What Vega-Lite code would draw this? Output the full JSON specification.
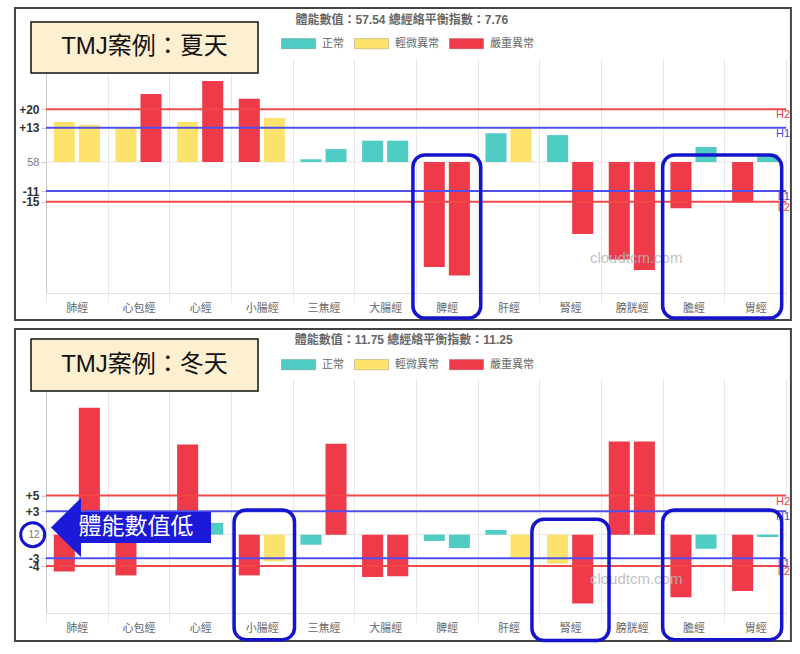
{
  "$schema": "https://vega.github.io/schema/vega-lite/v6.json",
  "padding": {"left": 13, "top": 7, "right": 5, "bottom": 5},
  "background": "white",
  "bounds": "flush",
  "spacing": 85,
  "resolve": {"scale": {"color": "independent"}},
  "config": {"view": {"stroke": null}, "font": "Liberation Sans, Noto Sans CJK TC"},
  "vconcat": [
    {
      "width": 740, "height": 235,
      "resolve": {"scale": {"x": "independent"}},
      "layer": [
        {
          "data": {"values": [{"v": 0}]},
          "mark": {"type": "rule", "color": "#e4e4e4", "strokeWidth": 1},
          "encoding": {
            "y": {"field": "v", "type": "quantitative", "title": null, "scale": {"domain": [-49.6, 39.4], "nice": false, "zero": false}}
          }
        },
        {
          "data": {"values": [
            {"meridian": "肺經", "side": "L", "value": 15.2, "status": "輕微異常"},
            {"meridian": "肺經", "side": "R", "value": 14.1, "status": "輕微異常"},
            {"meridian": "心包經", "side": "L", "value": 12.9, "status": "輕微異常"},
            {"meridian": "心包經", "side": "R", "value": 25.8, "status": "嚴重異常"},
            {"meridian": "心經", "side": "L", "value": 15.2, "status": "輕微異常"},
            {"meridian": "心經", "side": "R", "value": 30.7, "status": "嚴重異常"},
            {"meridian": "小腸經", "side": "L", "value": 24.0, "status": "嚴重異常"},
            {"meridian": "小腸經", "side": "R", "value": 16.7, "status": "輕微異常"},
            {"meridian": "三焦經", "side": "L", "value": 1.1, "status": "正常"},
            {"meridian": "三焦經", "side": "R", "value": 4.9, "status": "正常"},
            {"meridian": "大腸經", "side": "L", "value": 8.1, "status": "正常"},
            {"meridian": "大腸經", "side": "R", "value": 8.1, "status": "正常"},
            {"meridian": "脾經", "side": "L", "value": -39.8, "status": "嚴重異常"},
            {"meridian": "脾經", "side": "R", "value": -43.0, "status": "嚴重異常"},
            {"meridian": "肝經", "side": "L", "value": 10.9, "status": "正常"},
            {"meridian": "肝經", "side": "R", "value": 12.8, "status": "輕微異常"},
            {"meridian": "腎經", "side": "L", "value": 10.2, "status": "正常"},
            {"meridian": "腎經", "side": "R", "value": -27.3, "status": "嚴重異常"},
            {"meridian": "膀胱經", "side": "L", "value": -36.9, "status": "嚴重異常"},
            {"meridian": "膀胱經", "side": "R", "value": -40.9, "status": "嚴重異常"},
            {"meridian": "膽經", "side": "L", "value": -17.5, "status": "嚴重異常"},
            {"meridian": "膽經", "side": "R", "value": 5.7, "status": "正常"},
            {"meridian": "胃經", "side": "L", "value": -15.3, "status": "嚴重異常"},
            {"meridian": "胃經", "side": "R", "value": 2.9, "status": "正常"}
          ]},
          "mark": {"type": "bar"},
          "encoding": {
            "x": {"field": "meridian", "type": "nominal",
                  "sort": ["肺經", "心包經", "心經", "小腸經", "三焦經", "大腸經", "脾經", "肝經", "腎經", "膀胱經", "膽經", "胃經"],
                  "scale": {"paddingInner": 0, "paddingOuter": 0},
                  "axis": {"title": null, "tickBand": "extent", "grid": true, "gridColor": "#e8e8e8", "tickColor": "#e8e8e8", "tickSize": 9, "domainColor": "#e0e0e0", "labelColor": "#666", "labelFontSize": 11, "labelPadding": 0, "labelAngle": 0}},
            "xOffset": {"field": "side", "type": "nominal", "scale": {"paddingInner": 0.16, "paddingOuter": 0.31}},
            "y": {"field": "value", "type": "quantitative", "title": null, "scale": {"domain": [-49.6, 39.4], "nice": false, "zero": false},
                  "axis": {"title": null, "values": [20, 13, 0, -11, -15],
                           "labelExpr": "datum.value == 0 ? '58' : (datum.value > 0 ? '+' + datum.value : '' + datum.value)",
                           "labelFontWeight": {"condition": {"test": "datum.value == 0", "value": "normal"}, "value": "bold"},
                           "labelColor": {"condition": {"test": "datum.value == 0", "value": "#777"}, "value": "#333"},
                           "labelFontSize": {"condition": {"test": "datum.value == 0", "value": 11}, "value": 12},
                           "labelOverlap": false, "labelPadding": 2, "tickSize": 5, "tickColor": "#ccc", "domainColor": "#ccc", "grid": false}},
            "color": {"field": "status", "type": "nominal",
                      "scale": {"domain": ["正常", "輕微異常", "嚴重異常"], "range": ["#4fcdc5", "#fde36b", "#ef3a4a"]},
                      "legend": {"title": null, "orient": "none", "legendX": 235, "legendY": -32, "direction": "horizontal",
                                 "symbolType": "M-1,-0.3H1V0.3H-1Z", "symbolSize": 1156, "symbolStrokeWidth": 1, "symbolStrokeColor": "rgba(0,0,0,0.18)",
                                 "labelFontSize": 11, "labelColor": "#666", "labelOffset": 6, "columnPadding": 8, "padding": 0}}
          }
        },
        {
          "data": {"values": [{"x1": -0.503, "x2": 12.08, "y1": 58.3, "y2": -59.8}]},
          "mark": {"type": "rect", "filled": false, "color": "#444", "strokeWidth": 2, "clip": false},
          "encoding": {
            "x": {"field": "x1", "type": "quantitative", "scale": {"domain": [0, 12], "nice": false, "zero": false}, "axis": null},
            "x2": {"field": "x2"},
            "y": {"field": "y1", "type": "quantitative", "title": null, "scale": {"domain": [-49.6, 39.4], "nice": false, "zero": false}},
            "y2": {"field": "y2"}
          }
        },
        {
          "data": {"values": [{"x1": -0.243, "x2": 3.438, "y1": 53.0, "y2": 33.7, "xc": 1.597, "yc": 43.4, "t": "TMJ案例：夏天"}]},
          "layer": [
            {
              "mark": {"type": "rect", "fill": "#fdf0d0", "stroke": "#111", "strokeWidth": 1.5, "clip": false},
              "encoding": {
                "x": {"field": "x1", "type": "quantitative", "scale": {"domain": [0, 12], "nice": false, "zero": false}, "axis": null},
                "x2": {"field": "x2"},
                "y": {"field": "y1", "type": "quantitative", "title": null, "scale": {"domain": [-49.6, 39.4], "nice": false, "zero": false}},
                "y2": {"field": "y2"}
              }
            },
            {
              "mark": {"type": "text", "fontSize": 24, "color": "#111", "align": "center", "baseline": "middle", "clip": false},
              "encoding": {
                "x": {"field": "xc", "type": "quantitative", "scale": {"domain": [0, 12], "nice": false, "zero": false}, "axis": null},
                "y": {"field": "yc", "type": "quantitative", "title": null, "scale": {"domain": [-49.6, 39.4], "nice": false, "zero": false}},
                "text": {"field": "t"}
              }
            }
          ]
        },
        {
          "data": {"values": [{"x": 5.77, "y": 53.8, "t": "體能數值：57.54 總經絡平衡指數：7.76"}]},
          "mark": {"type": "text", "fontSize": 12, "fontWeight": "bold", "color": "#666", "align": "center", "baseline": "middle", "clip": false},
          "encoding": {
            "x": {"field": "x", "type": "quantitative", "scale": {"domain": [0, 12], "nice": false, "zero": false}, "axis": null},
            "y": {"field": "y", "type": "quantitative", "title": null, "scale": {"domain": [-49.6, 39.4], "nice": false, "zero": false}},
            "text": {"field": "t"}
          }
        },
        {
          "data": {"values": [{"v": 20, "lab": "H2"}, {"v": -15, "lab": "L2"}]},
          "layer": [
            {"mark": {"type": "rule", "color": "#f24848", "strokeWidth": 2},
             "encoding": {"y": {"field": "v", "type": "quantitative", "title": null, "scale": {"domain": [-49.6, 39.4], "nice": false, "zero": false}}}},
            {"mark": {"type": "text", "color": "#e44848", "align": "right", "baseline": "top", "dx": 4, "dy": 0, "fontSize": 11},
             "encoding": {"x": {"value": "width"},
                          "y": {"field": "v", "type": "quantitative", "title": null, "scale": {"domain": [-49.6, 39.4], "nice": false, "zero": false}},
                          "text": {"field": "lab"}}}
          ]
        },
        {
          "data": {"values": [{"v": 13, "lab": "H1"}, {"v": -11, "lab": "L1"}]},
          "layer": [
            {"mark": {"type": "rule", "color": "#4f4fee", "strokeWidth": 2},
             "encoding": {"y": {"field": "v", "type": "quantitative", "title": null, "scale": {"domain": [-49.6, 39.4], "nice": false, "zero": false}}}},
            {"mark": {"type": "text", "color": "#4a4ae0", "align": "right", "baseline": "top", "dx": 4, "dy": 0, "fontSize": 11},
             "encoding": {"x": {"value": "width"},
                          "y": {"field": "v", "type": "quantitative", "title": null, "scale": {"domain": [-49.6, 39.4], "nice": false, "zero": false}},
                          "text": {"field": "lab"}}}
          ]
        },
        {
          "data": {"values": [{"x": 9.57, "y": -36.4, "t": "cloudtcm.com"}]},
          "mark": {"type": "text", "fontSize": 15, "color": "#b8b8b8", "opacity": 0.85, "align": "center", "baseline": "middle"},
          "encoding": {
            "x": {"field": "x", "type": "quantitative", "scale": {"domain": [0, 12], "nice": false, "zero": false}, "axis": null},
            "y": {"field": "y", "type": "quantitative", "title": null, "scale": {"domain": [-49.6, 39.4], "nice": false, "zero": false}},
            "text": {"field": "t"}
          }
        },
        {
          "data": {"values": [{"x1": 5.95, "x2": 7.05, "y1": 2.65, "y2": -59.1}, {"x1": 10.0, "x2": 11.93, "y1": 2.65, "y2": -59.1}]},
          "mark": {"type": "rect", "filled": false, "color": "#1414cc", "strokeWidth": 3.5, "cornerRadius": 12, "clip": false},
          "encoding": {
            "x": {"field": "x1", "type": "quantitative", "scale": {"domain": [0, 12], "nice": false, "zero": false}, "axis": null},
            "x2": {"field": "x2"},
            "y": {"field": "y1", "type": "quantitative", "title": null, "scale": {"domain": [-49.6, 39.4], "nice": false, "zero": false}},
            "y2": {"field": "y2"}
          }
        }
      ]
    },
    {
      "width": 740, "height": 235,
      "resolve": {"scale": {"x": "independent"}},
      "layer": [
        {
          "data": {"values": [{"v": 0}]},
          "mark": {"type": "rule", "color": "#e4e4e4", "strokeWidth": 1},
          "encoding": {
            "y": {"field": "v", "type": "quantitative", "title": null, "scale": {"domain": [-10, 20], "nice": false, "zero": false}}
          }
        },
        {
          "data": {"values": [
            {"meridian": "肺經", "side": "L", "value": -4.7, "status": "嚴重異常"},
            {"meridian": "肺經", "side": "R", "value": 16.2, "status": "嚴重異常"},
            {"meridian": "心包經", "side": "L", "value": -5.2, "status": "嚴重異常"},
            {"meridian": "心包經", "side": "R", "value": 0.5, "status": "正常"},
            {"meridian": "心經", "side": "L", "value": 11.5, "status": "嚴重異常"},
            {"meridian": "心經", "side": "R", "value": 1.5, "status": "正常"},
            {"meridian": "小腸經", "side": "L", "value": -5.2, "status": "嚴重異常"},
            {"meridian": "小腸經", "side": "R", "value": -3.4, "status": "輕微異常"},
            {"meridian": "三焦經", "side": "L", "value": -1.3, "status": "正常"},
            {"meridian": "三焦經", "side": "R", "value": 11.6, "status": "嚴重異常"},
            {"meridian": "大腸經", "side": "L", "value": -5.4, "status": "嚴重異常"},
            {"meridian": "大腸經", "side": "R", "value": -5.3, "status": "嚴重異常"},
            {"meridian": "脾經", "side": "L", "value": -0.8, "status": "正常"},
            {"meridian": "脾經", "side": "R", "value": -1.7, "status": "正常"},
            {"meridian": "肝經", "side": "L", "value": 0.6, "status": "正常"},
            {"meridian": "肝經", "side": "R", "value": -2.9, "status": "輕微異常"},
            {"meridian": "腎經", "side": "L", "value": -3.7, "status": "輕微異常"},
            {"meridian": "腎經", "side": "R", "value": -8.8, "status": "嚴重異常"},
            {"meridian": "膀胱經", "side": "L", "value": 11.9, "status": "嚴重異常"},
            {"meridian": "膀胱經", "side": "R", "value": 11.9, "status": "嚴重異常"},
            {"meridian": "膽經", "side": "L", "value": -8.0, "status": "嚴重異常"},
            {"meridian": "膽經", "side": "R", "value": -1.8, "status": "正常"},
            {"meridian": "胃經", "side": "L", "value": -7.2, "status": "嚴重異常"},
            {"meridian": "胃經", "side": "R", "value": -0.3, "status": "正常"}
          ]},
          "mark": {"type": "bar"},
          "encoding": {
            "x": {"field": "meridian", "type": "nominal",
                  "sort": ["肺經", "心包經", "心經", "小腸經", "三焦經", "大腸經", "脾經", "肝經", "腎經", "膀胱經", "膽經", "胃經"],
                  "scale": {"paddingInner": 0, "paddingOuter": 0},
                  "axis": {"title": null, "tickBand": "extent", "grid": true, "gridColor": "#e8e8e8", "tickColor": "#e8e8e8", "tickSize": 9, "domainColor": "#e0e0e0", "labelColor": "#666", "labelFontSize": 11, "labelPadding": 0, "labelAngle": 0}},
            "xOffset": {"field": "side", "type": "nominal", "scale": {"paddingInner": 0.16, "paddingOuter": 0.31}},
            "y": {"field": "value", "type": "quantitative", "title": null, "scale": {"domain": [-10, 20], "nice": false, "zero": false},
                  "axis": {"title": null, "values": [5, 3, 0, -3, -4],
                           "labelExpr": "datum.value == 0 ? '12' : (datum.value > 0 ? '+' + datum.value : '' + datum.value)",
                           "labelFontWeight": {"condition": {"test": "datum.value == 0", "value": "normal"}, "value": "bold"},
                           "labelColor": {"condition": {"test": "datum.value == 0", "value": "#777"}, "value": "#333"},
                           "labelFontSize": {"condition": {"test": "datum.value == 0", "value": 10}, "value": 12},
                           "labelOverlap": false, "labelPadding": 2, "tickSize": 5, "tickColor": "#ccc", "domainColor": "#ccc", "grid": false}},
            "color": {"field": "status", "type": "nominal",
                      "scale": {"domain": ["正常", "輕微異常", "嚴重異常"], "range": ["#4fcdc5", "#fde36b", "#ef3a4a"]},
                      "legend": {"title": null, "orient": "none", "legendX": 235, "legendY": -31, "direction": "horizontal",
                                 "symbolType": "M-1,-0.3H1V0.3H-1Z", "symbolSize": 1156, "symbolStrokeWidth": 1, "symbolStrokeColor": "rgba(0,0,0,0.18)",
                                 "labelFontSize": 11, "labelColor": "#666", "labelOffset": 6, "columnPadding": 8, "padding": 0}}
          }
        },
        {
          "data": {"values": [{"x1": -0.503, "x2": 12.08, "y1": 26.26, "y2": -13.57}]},
          "mark": {"type": "rect", "filled": false, "color": "#444", "strokeWidth": 2, "clip": false},
          "encoding": {
            "x": {"field": "x1", "type": "quantitative", "scale": {"domain": [0, 12], "nice": false, "zero": false}, "axis": null},
            "x2": {"field": "x2"},
            "y": {"field": "y1", "type": "quantitative", "title": null, "scale": {"domain": [-10, 20], "nice": false, "zero": false}},
            "y2": {"field": "y2"}
          }
        },
        {
          "data": {"values": [{"x1": -0.243, "x2": 3.438, "y1": 24.98, "y2": 18.35, "xc": 1.597, "yc": 21.66, "t": "TMJ案例：冬天"}]},
          "layer": [
            {
              "mark": {"type": "rect", "fill": "#fdf0d0", "stroke": "#111", "strokeWidth": 1.5, "clip": false},
              "encoding": {
                "x": {"field": "x1", "type": "quantitative", "scale": {"domain": [0, 12], "nice": false, "zero": false}, "axis": null},
                "x2": {"field": "x2"},
                "y": {"field": "y1", "type": "quantitative", "title": null, "scale": {"domain": [-10, 20], "nice": false, "zero": false}},
                "y2": {"field": "y2"}
              }
            },
            {
              "mark": {"type": "text", "fontSize": 24, "color": "#111", "align": "center", "baseline": "middle", "clip": false},
              "encoding": {
                "x": {"field": "xc", "type": "quantitative", "scale": {"domain": [0, 12], "nice": false, "zero": false}, "axis": null},
                "y": {"field": "yc", "type": "quantitative", "title": null, "scale": {"domain": [-10, 20], "nice": false, "zero": false}},
                "text": {"field": "t"}
              }
            }
          ]
        },
        {
          "data": {"values": [{"x": 5.80, "y": 24.86, "t": "體能數值：11.75 總經絡平衡指數：11.25"}]},
          "mark": {"type": "text", "fontSize": 12, "fontWeight": "bold", "color": "#666", "align": "center", "baseline": "middle", "clip": false},
          "encoding": {
            "x": {"field": "x", "type": "quantitative", "scale": {"domain": [0, 12], "nice": false, "zero": false}, "axis": null},
            "y": {"field": "y", "type": "quantitative", "title": null, "scale": {"domain": [-10, 20], "nice": false, "zero": false}},
            "text": {"field": "t"}
          }
        },
        {
          "data": {"values": [{"v": 5, "lab": "H2"}, {"v": -4, "lab": "L2"}]},
          "layer": [
            {"mark": {"type": "rule", "color": "#f24848", "strokeWidth": 2},
             "encoding": {"y": {"field": "v", "type": "quantitative", "title": null, "scale": {"domain": [-10, 20], "nice": false, "zero": false}}}},
            {"mark": {"type": "text", "color": "#e44848", "align": "right", "baseline": "top", "dx": 4, "dy": 0, "fontSize": 11},
             "encoding": {"x": {"value": "width"},
                          "y": {"field": "v", "type": "quantitative", "title": null, "scale": {"domain": [-10, 20], "nice": false, "zero": false}},
                          "text": {"field": "lab"}}}
          ]
        },
        {
          "data": {"values": [{"v": 3, "lab": "H1"}, {"v": -3, "lab": "L1"}]},
          "layer": [
            {"mark": {"type": "rule", "color": "#4f4fee", "strokeWidth": 2},
             "encoding": {"y": {"field": "v", "type": "quantitative", "title": null, "scale": {"domain": [-10, 20], "nice": false, "zero": false}}}},
            {"mark": {"type": "text", "color": "#4a4ae0", "align": "right", "baseline": "top", "dx": 4, "dy": 0, "fontSize": 11},
             "encoding": {"x": {"value": "width"},
                          "y": {"field": "v", "type": "quantitative", "title": null, "scale": {"domain": [-10, 20], "nice": false, "zero": false}},
                          "text": {"field": "lab"}}}
          ]
        },
        {
          "data": {"values": [{"x": 9.57, "y": -5.66, "t": "cloudtcm.com"}]},
          "mark": {"type": "text", "fontSize": 15, "color": "#b8b8b8", "opacity": 0.85, "align": "center", "baseline": "middle"},
          "encoding": {
            "x": {"field": "x", "type": "quantitative", "scale": {"domain": [0, 12], "nice": false, "zero": false}, "axis": null},
            "y": {"field": "y", "type": "quantitative", "title": null, "scale": {"domain": [-10, 20], "nice": false, "zero": false}},
            "text": {"field": "t"}
          }
        },
        {
          "data": {"values": [{"x1": 3.05, "x2": 4.03, "y1": 3.15, "y2": -13.4}, {"x1": 7.88, "x2": 9.13, "y1": 1.97, "y2": -13.5}, {"x1": 10.0, "x2": 11.93, "y1": 3.15, "y2": -13.4}]},
          "mark": {"type": "rect", "filled": false, "color": "#1414cc", "strokeWidth": 3.5, "cornerRadius": 12, "clip": false},
          "encoding": {
            "x": {"field": "x1", "type": "quantitative", "scale": {"domain": [0, 12], "nice": false, "zero": false}, "axis": null},
            "x2": {"field": "x2"},
            "y": {"field": "y1", "type": "quantitative", "title": null, "scale": {"domain": [-10, 20], "nice": false, "zero": false}},
            "y2": {"field": "y2"}
          }
        },
        {
          "data": {"values": [{"x": 1.378, "y": 0.92, "xt": 1.46, "yt": 0.98, "t": "體能數值低"}]},
          "layer": [
            {
              "mark": {"type": "point", "shape": "M-1,0L-0.625,-0.369L-0.625,-0.194L1,-0.194L1,0.194L-0.625,0.194L-0.625,0.369Z", "size": 25600, "filled": true, "color": "#1a1ad8", "opacity": 1, "clip": false},
              "encoding": {
                "x": {"field": "x", "type": "quantitative", "scale": {"domain": [0, 12], "nice": false, "zero": false}, "axis": null},
                "y": {"field": "y", "type": "quantitative", "title": null, "scale": {"domain": [-10, 20], "nice": false, "zero": false}}
              }
            },
            {
              "mark": {"type": "text", "fontSize": 23, "color": "white", "align": "center", "baseline": "middle", "clip": false},
              "encoding": {
                "x": {"field": "xt", "type": "quantitative", "scale": {"domain": [0, 12], "nice": false, "zero": false}, "axis": null},
                "y": {"field": "yt", "type": "quantitative", "title": null, "scale": {"domain": [-10, 20], "nice": false, "zero": false}},
                "text": {"field": "t"}
              }
            }
          ]
        },
        {
          "data": {"values": [{"x": -0.216, "y": 0}]},
          "mark": {"type": "point", "shape": "circle", "size": 576, "filled": false, "color": "#1414cc", "strokeWidth": 3, "opacity": 1, "clip": false},
          "encoding": {
            "x": {"field": "x", "type": "quantitative", "scale": {"domain": [0, 12], "nice": false, "zero": false}, "axis": null},
            "y": {"field": "y", "type": "quantitative", "title": null, "scale": {"domain": [-10, 20], "nice": false, "zero": false}}
          }
        }
      ]
    }
  ]
}
